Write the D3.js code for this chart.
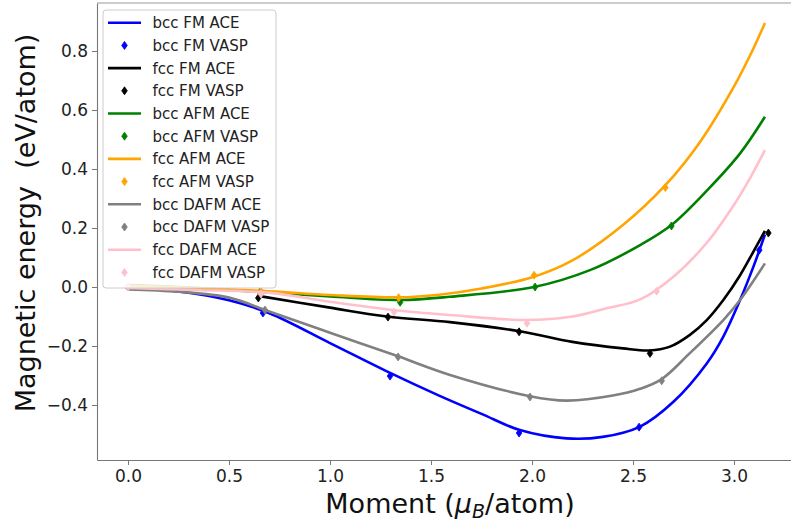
<!DOCTYPE html>
<html><head><meta charset="utf-8">
<script src="https://cdn.jsdelivr.net/npm/d3@7"></script>
<style>body{margin:0;background:#fff} svg{display:block} text{font-family:"DejaVu Sans",sans-serif}</style>
</head><body><svg id="chart" width="791" height="521"></svg>
<script>
// ---- data ----
const xTicks = [0, 0.5, 1.0, 1.5, 2.0, 2.5, 3.0];
const yTicks = [-0.4, -0.2, 0.0, 0.2, 0.4, 0.6, 0.8];
const seriesNames = ["bcc FM ACE","bcc FM VASP","fcc FM ACE","fcc FM VASP","bcc AFM ACE","bcc AFM VASP","fcc AFM ACE","fcc AFM VASP","bcc DAFM ACE","bcc DAFM VASP","fcc DAFM ACE","fcc DAFM VASP"];
const seriesColors = ["#0000ff","#0000ff","#000000","#000000","#008000","#008000","#ffa500","#ffa500","#808080","#808080","#ffc0cb","#ffc0cb"];

const bccFmAce = [[0,-0.005],[0.25,-0.015],[0.5,-0.045],[0.7,-0.089],[1.0,-0.19],[1.3,-0.292],[1.54,-0.368],[1.75,-0.43],[1.94,-0.485],[2.17,-0.513],[2.35,-0.508],[2.535,-0.473],[2.70,-0.389],[2.865,-0.259],[2.947,-0.168],[3.03,-0.044],[3.096,0.069],[3.153,0.178]];
const bccFmVasp = [[0,0],[0.668,-0.088],[1.297,-0.302],[1.936,-0.495],[2.53,-0.475],[3.125,0.125]];
const fccFmAce = [[0.645,-0.03],[1.0,-0.07],[1.282,-0.1],[1.594,-0.119],[1.94,-0.15],[2.2,-0.186],[2.45,-0.208],[2.58,-0.215],[2.68,-0.203],[2.78,-0.163],[2.865,-0.112],[2.947,-0.044],[3.03,0.04],[3.096,0.12],[3.153,0.19]];
const fccFmVasp = [[0.645,-0.037],[1.287,-0.102],[1.936,-0.152],[2.584,-0.225],[3.17,0.183]];
const bccAfmAce = [[0,0.007],[0.33,-0.003],[0.66,-0.017],[1.0,-0.032],[1.347,-0.044],[1.594,-0.033],[2.01,0.0],[2.29,0.058],[2.535,0.142],[2.69,0.21],[2.87,0.33],[3.03,0.453],[3.153,0.577]];
const bccAfmVasp = [[0,0],[0.653,-0.017],[1.347,-0.052],[2.015,0.0],[2.69,0.207]];
const fccAfmAce = [[0,0.005],[0.66,-0.013],[1.0,-0.027],[1.34,-0.035],[1.54,-0.026],[1.75,-0.005],[2.01,0.035],[2.2,0.09],[2.45,0.21],[2.66,0.345],[2.83,0.49],[3.0,0.68],[3.09,0.80],[3.153,0.895]];
const fccAfmVasp = [[0,0],[0.66,-0.016],[1.34,-0.036],[2.01,0.04],[2.66,0.337]];
const bccDafmAce = [[0,-0.008],[0.25,-0.016],[0.5,-0.036],[0.703,-0.084],[1.0,-0.155],[1.337,-0.235],[1.594,-0.298],[1.99,-0.37],[2.17,-0.385],[2.4,-0.368],[2.535,-0.345],[2.642,-0.312],[2.78,-0.225],[2.947,-0.112],[3.03,-0.044],[3.153,0.08]];
const bccDafmVasp = [[0,0],[0.678,-0.078],[1.337,-0.237],[1.99,-0.373],[2.642,-0.318]];
const fccDafmAce = [[0,-0.003],[0.33,-0.01],[0.703,-0.02],[1.0,-0.05],[1.31,-0.078],[1.594,-0.095],[1.975,-0.112],[2.2,-0.1],[2.37,-0.072],[2.535,-0.042],[2.70,0.035],[2.865,0.15],[3.0,0.279],[3.08,0.37],[3.153,0.464]];
const fccDafmVasp = [[0,0],[0.658,-0.024],[1.317,-0.085],[1.975,-0.123],[2.617,-0.014]];

const seriesData = [bccFmAce,bccFmVasp,fccFmAce,fccFmVasp,bccAfmAce,bccAfmVasp,fccAfmAce,fccAfmVasp,bccDafmAce,bccDafmVasp,fccDafmAce,fccDafmVasp];
const series = seriesNames.map((n,i)=>({name:n, color:seriesColors[i], data:seriesData[i], kind: n.endsWith("ACE") ? "line" : "marker"}));

// ---- layout ----
const svg = d3.select("#chart");
const pLeft = 97, pRight = 800.7, pTop = 3, pBottom = 460;
const x = d3.scaleLinear().domain([-0.1535, 3.33]).range([pLeft, pRight]);
const y = d3.scaleLinear().domain([-0.5864, 0.9627]).range([pBottom, pTop]);

const diamond = (cx, cy, w, h) => `M${cx},${cy-h}L${cx+w},${cy}L${cx},${cy+h}L${cx-w},${cy}Z`;
const lineGen = d3.line().x(d=>x(d[0])).y(d=>y(d[1])).curve(d3.curveCatmullRom.alpha(0.5));

const plot = svg.append("g");
series.forEach(s=>{
  if (s.kind === "line") {
    plot.append("path").datum(s.data).attr("d", lineGen).attr("fill","none")
      .attr("stroke", s.color).attr("stroke-width", 2.6).attr("stroke-linejoin","round");
  } else {
    plot.selectAll(null).data(s.data).enter().append("path")
      .attr("d", d=>diamond(x(d[0]), y(d[1]), 2.8, 4))
      .attr("fill", s.color).attr("stroke", s.color).attr("stroke-width", 0.8);
  }
});

// axes
const xAxis = svg.append("g").attr("transform",`translate(0,${pBottom})`)
  .call(d3.axisBottom(x).tickValues(xTicks).tickFormat(d3.format(".1f")).tickSize(5).tickSizeOuter(0).tickPadding(5));
const yAxis = svg.append("g").attr("transform",`translate(${pLeft},0)`)
  .call(d3.axisLeft(y).tickValues(yTicks).tickFormat(d3.format(".1f")).tickSize(5).tickSizeOuter(0).tickPadding(4));
[xAxis, yAxis].forEach(g=>{
  g.select(".domain").attr("stroke","#777").attr("stroke-width",1.1);
  g.selectAll(".tick line").attr("stroke","#777").attr("stroke-width",1);
  g.selectAll(".tick text").attr("font-size","17px").attr("fill","#222").attr("font-family","DejaVu Sans");
});
svg.append("line").attr("x1",pLeft).attr("x2",pRight).attr("y1",pTop).attr("y2",pTop)
  .attr("stroke","#999").attr("stroke-width",1.1);

// axis labels
const xl = svg.append("text").attr("x", 450).attr("y", 513).attr("text-anchor","middle")
  .attr("font-size","27px").attr("fill","#111");
xl.append("tspan").text("Moment (");
xl.append("tspan").attr("font-style","italic").text("μ");
xl.append("tspan").attr("font-style","italic").attr("font-size","19px").attr("dy","5").text("B");
xl.append("tspan").attr("dy","-5").text("/atom)");

svg.append("text").attr("transform","translate(35,223) rotate(-90)").attr("text-anchor","middle")
  .attr("font-size","27px").attr("fill","#111").style("white-space","pre")
  .text("Magnetic energy  (eV/atom)");

// legend
const lg = svg.append("g");
lg.append("rect").attr("x",103).attr("y",10).attr("width",173).attr("height",278).attr("rx",3)
  .attr("fill","#fff").attr("fill-opacity",0.8).attr("stroke","#cccccc").attr("stroke-width",1);
series.forEach((s,i)=>{
  const cy = 22.7 + i*22.7;
  if (s.kind === "line") {
    lg.append("line").attr("x1",108).attr("x2",141).attr("y1",cy).attr("y2",cy)
      .attr("stroke", s.color).attr("stroke-width",2.6);
  } else {
    lg.append("path").attr("d", diamond(124.5, cy, 2.8, 4)).attr("fill", s.color)
      .attr("stroke", s.color).attr("stroke-width",0.8);
  }
  lg.append("text").attr("x",152.5).attr("y",cy).attr("dy","0.36em").attr("font-size","15px")
    .attr("fill","#222").text(s.name);
});
</script></body></html>
